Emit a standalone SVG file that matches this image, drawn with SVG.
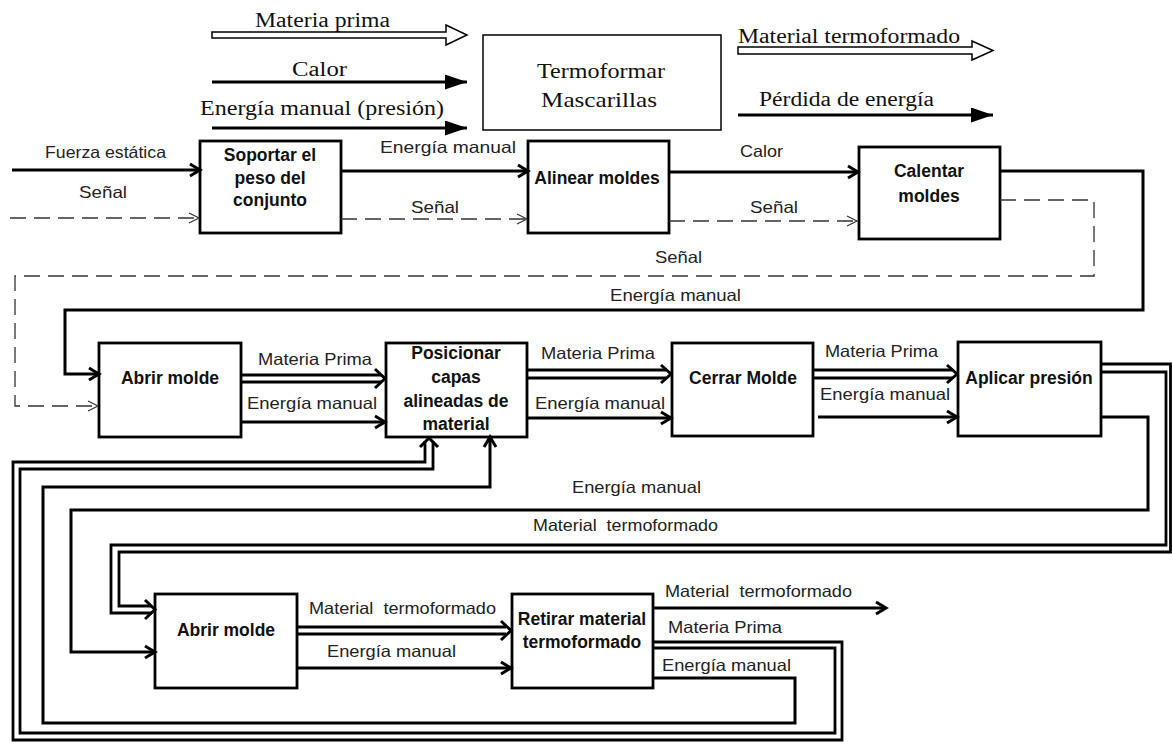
<svg xmlns="http://www.w3.org/2000/svg" width="1172" height="745" viewBox="0 0 1172 745">
  <style>
    .box { fill: #fff; stroke: #000; stroke-width: 2.8; }
    .tbox { fill: #fff; stroke: #000; stroke-width: 1.5; }
    .bt { font-family: "Liberation Sans", Arial, sans-serif; font-weight: bold; font-size: 17.5px; fill: #111; text-anchor: middle; }
    .lbl { font-family: "Liberation Sans", Arial, sans-serif; font-size: 16.5px; fill: #222; }
    .leg { font-family: "Liberation Serif", "Times New Roman", serif; font-size: 20px; fill: #111; }
    .legc { font-family: "Liberation Serif", "Times New Roman", serif; font-size: 22px; fill: #111; }
    .flow { fill: none; stroke: #000; stroke-width: 3; }
    .dbl { fill: none; stroke: #000; stroke-width: 2.8; }
    .sig { fill: none; stroke: #333; stroke-width: 1.3; stroke-dasharray: 16 8; }
    .hollow { fill: #fff; stroke: #000; stroke-width: 1.5; }
    .chev { fill: none; stroke: #000; stroke-width: 3; stroke-linejoin: miter; }
  </style>
  <defs>
    <marker id="head" viewBox="0 0 12 14" refX="11" refY="7" markerWidth="12" markerHeight="14" markerUnits="userSpaceOnUse" orient="auto" overflow="visible">
      <path d="M1,1 L11,7 L1,13" fill="none" stroke="#000" stroke-width="3"/>
    </marker>
    <marker id="thin" viewBox="0 0 12 12" refX="11" refY="6" markerWidth="12" markerHeight="12" markerUnits="userSpaceOnUse" orient="auto" overflow="visible">
      <path d="M1,1 L11,6 L1,11" fill="none" stroke="#333" stroke-width="1.2"/>
    </marker>
    <marker id="tri" viewBox="0 0 22 15" refX="22" refY="7.5" markerWidth="22" markerHeight="15" markerUnits="userSpaceOnUse" orient="auto">
      <path d="M0,0 L22,7.5 L0,15 z" fill="#000"/>
    </marker>
  </defs>

  <!-- key: flow types around the overall function -->
  <g id="key">
    <text class="leg" x="255" y="27" textLength="135" lengthAdjust="spacingAndGlyphs">Materia prima</text>
    <path class="hollow" d="M212,32 H446 V25 L467,35 L446,45 V38 H212 Z"/>
    <text class="leg" x="292" y="76" textLength="55" lengthAdjust="spacingAndGlyphs">Calor</text>
    <line class="flow" x1="212" y1="82" x2="467" y2="82" marker-end="url(#tri)"/>
    <text class="leg" x="200" y="115" textLength="244" lengthAdjust="spacingAndGlyphs">Energía manual (presión)</text>
    <line class="flow" x1="212" y1="128" x2="467" y2="128" marker-end="url(#tri)"/>
    <text class="leg" x="738" y="43" textLength="222" lengthAdjust="spacingAndGlyphs">Material termoformado</text>
    <path class="hollow" d="M738,47 H972 V41 L993,50.5 L972,60 V54 H738 Z"/>
    <text class="leg" x="759" y="106" textLength="175" lengthAdjust="spacingAndGlyphs">Pérdida de energía</text>
    <line class="flow" x1="738" y1="115" x2="993" y2="115" marker-end="url(#tri)"/>
  </g>

  <g id="termoformar">
    <rect class="tbox" x="483" y="35" width="238" height="95"/>
    <text class="legc" x="537" y="78" textLength="128" lengthAdjust="spacingAndGlyphs">Termoformar</text>
    <text class="legc" x="541" y="107" textLength="116" lengthAdjust="spacingAndGlyphs">Mascarillas</text>
  </g>

  <!-- process blocks -->
  <g id="soportar">
    <rect class="box" x="200" y="141" width="141" height="92"/>
    <text class="bt" x="270" y="161">Soportar el</text>
    <text class="bt" x="270" y="184">peso del</text>
    <text class="bt" x="270" y="206">conjunto</text>
  </g>
  <g id="alinear">
    <rect class="box" x="528" y="141" width="141" height="92"/>
    <text class="bt" x="597" y="184">Alinear moldes</text>
  </g>
  <g id="calentar">
    <rect class="box" x="859" y="147" width="141" height="92"/>
    <text class="bt" x="929" y="177">Calentar</text>
    <text class="bt" x="929" y="202">moldes</text>
  </g>
  <g id="abrir1">
    <rect class="box" x="99" y="343" width="142" height="94"/>
    <text class="bt" x="170" y="384">Abrir molde</text>
  </g>
  <g id="posicionar">
    <rect class="box" x="386" y="343" width="141" height="94"/>
    <text class="bt" x="456" y="359">Posicionar</text>
    <text class="bt" x="456" y="383">capas</text>
    <text class="bt" x="456" y="407">alineadas de</text>
    <text class="bt" x="456" y="430">material</text>
  </g>
  <g id="cerrar">
    <rect class="box" x="672" y="343" width="141" height="93"/>
    <text class="bt" x="743" y="384">Cerrar Molde</text>
  </g>
  <g id="aplicar">
    <rect class="box" x="958" y="342" width="143" height="94"/>
    <text class="bt" x="1029" y="384">Aplicar presión</text>
  </g>
  <g id="abrir2">
    <rect class="box" x="155" y="594" width="142" height="94"/>
    <text class="bt" x="226" y="636">Abrir molde</text>
  </g>
  <g id="retirar">
    <rect class="box" x="512" y="594" width="141" height="94"/>
    <text class="bt" x="582" y="625">Retirar material</text>
    <text class="bt" x="582" y="648">termoformado</text>
  </g>

  <!-- flows between blocks -->
  <g id="connectors">
    <!-- row 1 -->
    <line class="flow" x1="12" y1="170" x2="200" y2="170" marker-end="url(#head)"/>
    <line class="sig" x1="10" y1="218" x2="199" y2="218" marker-end="url(#thin)"/>
    <line class="flow" x1="341" y1="171" x2="528" y2="171" marker-end="url(#head)"/>
    <line class="sig" x1="341" y1="219" x2="527" y2="219" marker-end="url(#thin)"/>
    <line class="flow" x1="669" y1="172" x2="858" y2="172" marker-end="url(#head)"/>
    <line class="sig" x1="669" y1="221" x2="857" y2="221" marker-end="url(#thin)"/>
    <path class="flow" d="M1000,171 H1143 V310 H65 V374 H99" marker-end="url(#head)"/>
    <path class="sig" d="M1000,200 H1094 V276 H15 V406 H98" marker-end="url(#thin)"/>

    <!-- row 2 -->
    <path class="dbl" d="M241,375 H381 M241,382 H381"/>
    <path class="chev" d="M375,369 L385,378.5 L375,388"/>
    <line class="flow" x1="241" y1="422" x2="385" y2="422" marker-end="url(#head)"/>
    <path class="dbl" d="M527,370 H666 M527,378 H666"/>
    <path class="chev" d="M661,365 L671,374 L661,383"/>
    <line class="flow" x1="527" y1="418" x2="671" y2="418" marker-end="url(#head)"/>
    <path class="dbl" d="M814,370 H952 M814,378 H952"/>
    <path class="chev" d="M947,365 L957,374 L947,383"/>
    <line class="flow" x1="818" y1="417" x2="957" y2="417" marker-end="url(#head)"/>

    <!-- termoformed material back to second opening -->
    <path class="dbl" d="M1101,364 H1170.5 V552 H119 V606 H151"/>
    <path class="dbl" d="M1101,372 H1166 V545 H111 V613 H151"/>
    <path class="chev" d="M145,600 L155,609.5 L145,619"/>
    <path class="flow" d="M1101,417 H1148 V510 H71 V652 H155" marker-end="url(#head)"/>

    <!-- row 3 -->
    <path class="dbl" d="M297,627 H506 M297,634 H506"/>
    <path class="chev" d="M501,621 L511,630.5 L501,640"/>
    <line class="flow" x1="297" y1="668" x2="511" y2="668" marker-end="url(#head)"/>
    <line class="flow" x1="653" y1="608" x2="886" y2="608" marker-end="url(#head)"/>

    <!-- return loops to positioning -->
    <path class="dbl" d="M653,642 H842 V740 H13 V462 H425 V441"/>
    <path class="dbl" d="M653,648 H835 V733 H20 V469 H433 V441"/>
    <path class="chev" d="M420,447 L429,438 L438,447"/>
    <path class="flow" d="M653,678 H795 V723 H43 V487 H490 V437" marker-end="url(#head)"/>

    <!-- labels -->
    <text class="lbl" x="45" y="158" textLength="121" lengthAdjust="spacingAndGlyphs">Fuerza estática</text>
    <text class="lbl" x="79" y="198" textLength="48" lengthAdjust="spacingAndGlyphs">Señal</text>
    <text class="lbl" x="380" y="153" textLength="136" lengthAdjust="spacingAndGlyphs">Energía manual</text>
    <text class="lbl" x="411" y="213" textLength="48" lengthAdjust="spacingAndGlyphs">Señal</text>
    <text class="lbl" x="740" y="157" textLength="43" lengthAdjust="spacingAndGlyphs">Calor</text>
    <text class="lbl" x="750" y="213" textLength="48" lengthAdjust="spacingAndGlyphs">Señal</text>
    <text class="lbl" x="655" y="263" textLength="47" lengthAdjust="spacingAndGlyphs">Señal</text>
    <text class="lbl" x="610" y="301" textLength="131" lengthAdjust="spacingAndGlyphs">Energía manual</text>
    <text class="lbl" x="258" y="365" textLength="114" lengthAdjust="spacingAndGlyphs">Materia Prima</text>
    <text class="lbl" x="247" y="409" textLength="130" lengthAdjust="spacingAndGlyphs">Energía manual</text>
    <text class="lbl" x="541" y="359" textLength="114" lengthAdjust="spacingAndGlyphs">Materia Prima</text>
    <text class="lbl" x="535" y="409" textLength="130" lengthAdjust="spacingAndGlyphs">Energía manual</text>
    <text class="lbl" x="825" y="357" textLength="113" lengthAdjust="spacingAndGlyphs">Materia Prima</text>
    <text class="lbl" x="820" y="400" textLength="130" lengthAdjust="spacingAndGlyphs">Energía manual</text>
    <text class="lbl" x="572" y="493" textLength="129" lengthAdjust="spacingAndGlyphs">Energía manual</text>
    <text class="lbl" x="533" y="531" textLength="185" lengthAdjust="spacingAndGlyphs" xml:space="preserve">Material  termoformado</text>
    <text class="lbl" x="309" y="614" textLength="187" lengthAdjust="spacingAndGlyphs" xml:space="preserve">Material  termoformado</text>
    <text class="lbl" x="327" y="657" textLength="129" lengthAdjust="spacingAndGlyphs">Energía manual</text>
    <text class="lbl" x="665" y="597" textLength="187" lengthAdjust="spacingAndGlyphs" xml:space="preserve">Material  termoformado</text>
    <text class="lbl" x="668" y="633" textLength="114" lengthAdjust="spacingAndGlyphs">Materia Prima</text>
    <text class="lbl" x="662" y="671" textLength="129" lengthAdjust="spacingAndGlyphs">Energía manual</text>
  </g>
</svg>
